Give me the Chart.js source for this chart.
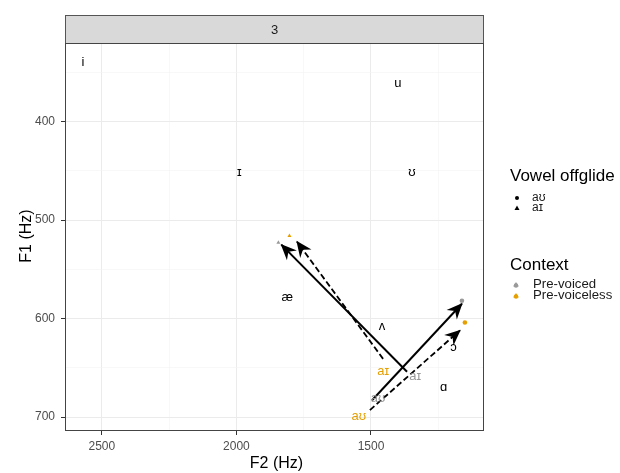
<!DOCTYPE html>
<html>
<head>
<meta charset="utf-8">
<script src="https://cdn.jsdelivr.net/npm/chart.js"></script>
<style>
  body { margin: 0; background: #fff; }
  canvas { display: block; }
</style>
</head>
<body>
<canvas id="vowelChart" width="620" height="473"></canvas>
<script>
// datos (F2 en x, F1 en y, ambos ejes invertidos)
const panelLabel = '3';

const xTicks = [2500, 2000, 1500];
const xMinor = [2250, 1750, 1250];
const yTicks = [400, 500, 600, 700];
const yMinor = [350, 450, 550, 650];

// vocales monoptongas
const vowelLabels = ['i', 'u', 'ɪ', 'ʊ', 'æ', 'ʌ', 'ɔ', 'ɑ'];
const vowelF2 = [2570, 1400, 1989, 1348, 1811, 1459, 1193, 1230];
const vowelF1 = [340, 361, 452, 452, 579, 608, 629, 670];

// etiquetas de inicio de diptongo
const onsetLabels = ['aɪ', 'aɪ', 'aʊ', 'aʊ'];
const onsetContext = ['Pre-voiceless', 'Pre-voiced', 'Pre-voiced', 'Pre-voiceless'];
const onsetF2 = [1455, 1336, 1474, 1545];
const onsetF1 = [654, 659, 681, 699];

// puntos de final (offglide)
const offVoicedF2 = [1844, 1162];
const offVoicedF1 = [523, 582];
const offVoicelessF2 = [1803, 1151];
const offVoicelessF1 = [516, 604];
const offShapes = ['triangle', 'circle'];

// flechas: inicio -> punta
const arrowStartF2 = [1366, 1455, 1496, 1504];
const arrowStartF1 = [654, 641, 683, 693];
const arrowEndF2 = [1833, 1775, 1162, 1169];
const arrowEndF1 = [525, 522, 585, 612];
const arrowDashed = [false, true, false, true];

const contextNames = ['Pre-voiced', 'Pre-voiceless'];
const contextColors = ['#999999', '#E69F00'];
const offglideNames = ['aʊ', 'aɪ'];

const FONT = '"Liberation Sans", Arial, sans-serif';

function pts(xs, ys) {
    return xs.map((x, i) => ({ x: x, y: ys[i] }));
}

const arrowSets = arrowStartF2.map((x0, i) => ({
    type: 'line',
    data: [{ x: x0, y: arrowStartF1[i] }, { x: arrowEndF2[i], y: arrowEndF1[i] }],
    borderColor: '#000',
    borderWidth: arrowDashed[i] ? 1.8 : 2,
    borderDash: arrowDashed[i] ? [6, 3] : [],
    pointRadius: 0,
    fill: false,
    tension: 0
}));

// dibuja la punta de flecha
function arrowHead(ctx, x0, y0, x1, y1) {
    const a = Math.atan2(y1 - y0, x1 - x0);
    const len = 15, half = 7, notch = 10;
    ctx.save();
    ctx.translate(x1, y1);
    ctx.rotate(a);
    ctx.beginPath();
    ctx.moveTo(1, 0);
    ctx.lineTo(-len, -half);
    ctx.lineTo(-notch, 0);
    ctx.lineTo(-len, half);
    ctx.closePath();
    ctx.fillStyle = '#000';
    ctx.fill();
    ctx.restore();
}

const decorPlugin = {
    id: 'decor',
    beforeDraw(chart) {
        const { ctx, chartArea: ca } = chart;
        ctx.save();
        ctx.fillStyle = '#fff';
        ctx.fillRect(0, 0, chart.width, chart.height);
        // franja del panel
        ctx.fillStyle = '#D9D9D9';
        ctx.fillRect(ca.left, 15, ca.right - ca.left, ca.top - 15);
        ctx.strokeStyle = '#555';
        ctx.lineWidth = 1;
        ctx.strokeRect(ca.left + 0.5, 15.5, ca.right - ca.left - 1, ca.top - 15);
        ctx.fillStyle = '#1A1A1A';
        ctx.font = '13px ' + FONT;
        ctx.textAlign = 'center';
        ctx.textBaseline = 'middle';
        ctx.fillText(panelLabel, (ca.left + ca.right) / 2, 30);
        ctx.restore();
    },
    afterDatasetsDraw(chart) {
        const { ctx, chartArea: ca, scales } = chart;
        const xs = scales.x, ys = scales.y;
        ctx.save();
        // puntas de flecha
        arrowStartF2.forEach((x0, i) => {
            arrowHead(ctx,
                xs.getPixelForValue(x0), ys.getPixelForValue(arrowStartF1[i]),
                xs.getPixelForValue(arrowEndF2[i]), ys.getPixelForValue(arrowEndF1[i]));
        });
        // etiquetas de vocales
        ctx.textAlign = 'center';
        ctx.textBaseline = 'middle';
        ctx.font = '13px ' + FONT;
        ctx.fillStyle = '#000';
        vowelLabels.forEach((t, i) => {
            ctx.fillText(t, xs.getPixelForValue(vowelF2[i]), ys.getPixelForValue(vowelF1[i]));
        });
        onsetLabels.forEach((t, i) => {
            ctx.fillStyle = contextColors[contextNames.indexOf(onsetContext[i])];
            ctx.fillText(t, xs.getPixelForValue(onsetF2[i]), ys.getPixelForValue(onsetF1[i]));
        });
        // borde del panel
        ctx.strokeStyle = '#444';
        ctx.lineWidth = 1;
        ctx.strokeRect(ca.left + 0.5, ca.top + 0.5, ca.right - ca.left - 1, ca.bottom - ca.top - 1);
        ctx.restore();
    },
    afterDraw(chart) {
        const { ctx, chartArea: ca } = chart;
        ctx.save();
        // títulos de ejes
        ctx.fillStyle = '#000';
        ctx.font = '16px ' + FONT;
        ctx.textAlign = 'center';
        ctx.textBaseline = 'middle';
        ctx.fillText('F2 (Hz)', (ca.left + ca.right) / 2 + 2, 464);
        ctx.save();
        ctx.translate(27, (ca.top + ca.bottom) / 2 - 1);
        ctx.rotate(-Math.PI / 2);
        ctx.fillText('F1 (Hz)', 0, 0);
        ctx.restore();

        // leyenda
        ctx.textAlign = 'left';
        ctx.font = '17px ' + FONT;
        ctx.fillText('Vowel offglide', 510, 176);
        ctx.fillText('Context', 510, 265);

        ctx.font = '12px ' + FONT;
        ctx.fillStyle = '#1A1A1A';
        offglideNames.forEach((t, i) => ctx.fillText(t, 532, 198 + i * 10));
        contextNames.forEach((t, i) => {
            // texto algo ensanchado, como en la figura
            ctx.save();
            ctx.translate(533, 285 + i * 11);
            ctx.scale(1.1, 1);
            ctx.fillText(t, 0, 0);
            ctx.restore();
        });

        // símbolos de leyenda
        ctx.fillStyle = '#000';
        ctx.beginPath();
        ctx.arc(517, 198, 2, 0, Math.PI * 2);
        ctx.fill();
        ctx.beginPath();
        ctx.moveTo(517, 205.5);
        ctx.lineTo(519.5, 210);
        ctx.lineTo(514.5, 210);
        ctx.closePath();
        ctx.fill();
        contextColors.forEach((c, i) => {
            const cy = 285 + i * 11;
            ctx.fillStyle = c;
            ctx.beginPath();
            ctx.arc(516, cy + 0.5, 2.2, 0, Math.PI * 2);
            ctx.fill();
            ctx.beginPath();
            ctx.moveTo(516, cy - 3);
            ctx.lineTo(518.8, cy + 1.5);
            ctx.lineTo(513.2, cy + 1.5);
            ctx.closePath();
            ctx.fill();
        });
        ctx.restore();
    }
};

function gridScale(major) {
    return {
        color: (c) => major.includes(c.tick && c.tick.value) ? '#EBEBEB' : '#F4F4F4',
        lineWidth: (c) => major.includes(c.tick && c.tick.value) ? 1 : 0.6,
        tickColor: (c) => major.includes(c.tick && c.tick.value) ? '#333' : 'rgba(0,0,0,0)',
        tickLength: 4,
        tickWidth: 1,
        drawTicks: true
    };
}

new Chart(document.getElementById('vowelChart'), {
    type: 'scatter',
    data: {
        datasets: [
            ...arrowSets,
            {
                label: contextNames[0],
                data: pts(offVoicedF2, offVoicedF1),
                pointStyle: offShapes,
                pointRadius: 2.3,
                backgroundColor: contextColors[0],
                borderColor: contextColors[0],
                borderWidth: 0
            },
            {
                label: contextNames[1],
                data: pts(offVoicelessF2, offVoicelessF1),
                pointStyle: offShapes,
                pointRadius: 2.3,
                backgroundColor: contextColors[1],
                borderColor: contextColors[1],
                borderWidth: 0
            }
        ]
    },
    options: {
        responsive: false,
        devicePixelRatio: 1,
        animation: false,
        layout: { padding: { top: 43, right: 136, left: 0, bottom: 0 } },
        plugins: {
            legend: { display: false },
            tooltip: { enabled: false }
        },
        scales: {
            x: {
                type: 'linear',
                reverse: true,
                min: 1080,
                max: 2637,
                afterFit: (s) => { s.height = 42; },
                afterBuildTicks: (s) => {
                    s.ticks = [...xTicks, ...xMinor].sort((a, b) => a - b).map(v => ({ value: v }));
                },
                border: { display: false },
                grid: gridScale(xTicks),
                ticks: {
                    callback: (v) => xTicks.includes(v) ? String(v) : '',
                    color: '#4D4D4D',
                    font: { family: FONT, size: 12 },
                    padding: 4,
                    maxRotation: 0,
                    autoSkip: false
                }
            },
            y: {
                type: 'linear',
                reverse: true,
                min: 320.3,
                max: 714.2,
                afterFit: (s) => { s.width = 65; },
                afterBuildTicks: (s) => {
                    s.ticks = [...yTicks, ...yMinor].sort((a, b) => a - b).map(v => ({ value: v }));
                },
                border: { display: false },
                grid: gridScale(yTicks),
                ticks: {
                    callback: (v) => yTicks.includes(v) ? String(v) : '',
                    color: '#4D4D4D',
                    font: { family: FONT, size: 12 },
                    padding: 6,
                    autoSkip: false
                }
            }
        }
    },
    plugins: [decorPlugin]
});
</script>
</body>
</html>
